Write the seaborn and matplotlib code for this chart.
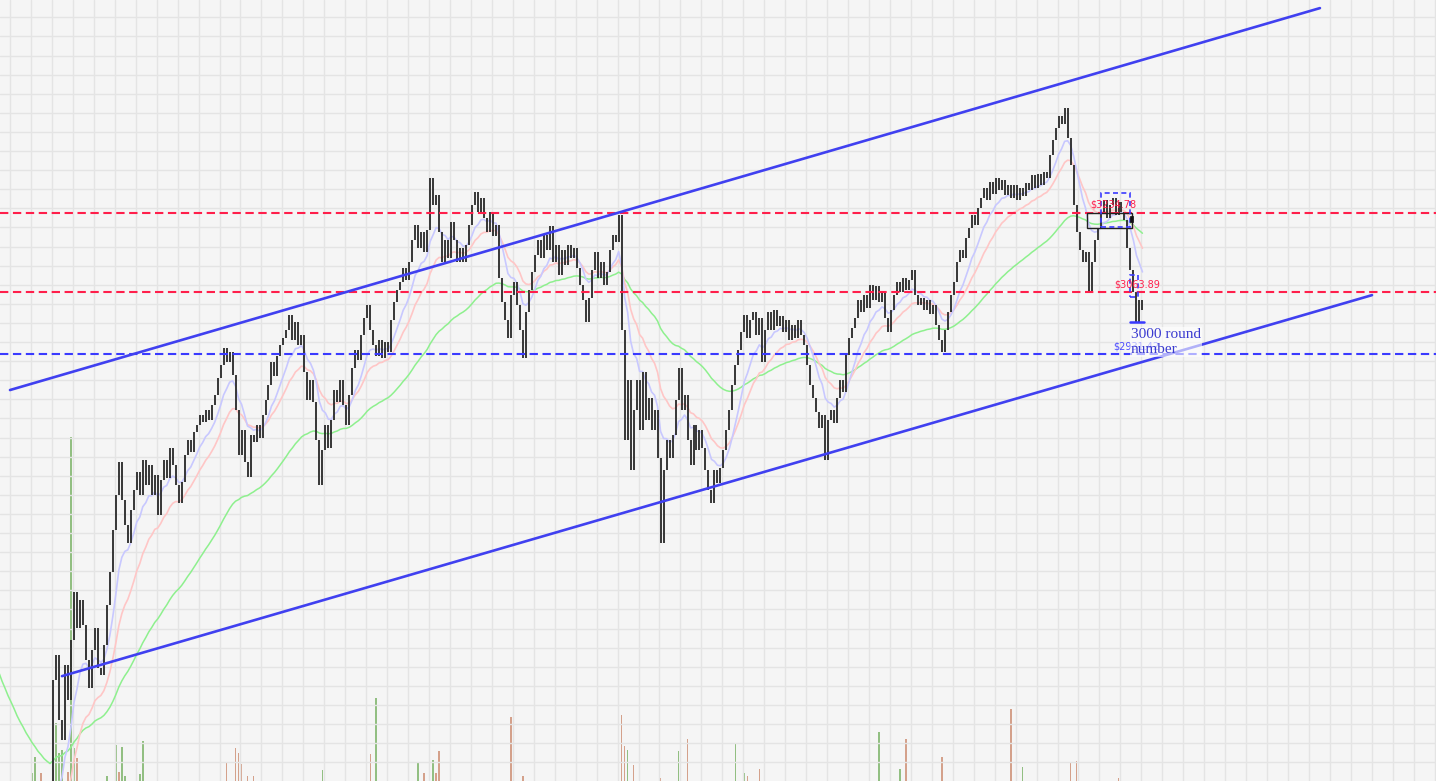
import numpy as np
import pandas as pd
import matplotlib
matplotlib.use("Agg")
import matplotlib.pyplot as plt
from matplotlib.patches import Rectangle
import seaborn as sns

# closes before the visible window (sit below the visible price range)
pre_close = [
    2950, 2980, 2960, 2990, 3010, 2970, 2940, 2960, 2920, 2890,
    2850, 2780, 2700, 2620, 2500, 2420, 2300, 2200, 2100, 2050,
    1980, 1950, 1900, 1870, 1820, 1850, 1800, 1760, 1790, 1740,
    1720, 1760, 1700, 1680, 1730, 1690, 1710, 1660, 1700, 1740,
    1720, 1680, 1750, 1700, 1760, 1720, 1780, 1740, 1700, 1760,
    1790, 1740, 1800, 1770, 1820, 1780, 1850, 1810, 1880, 1900,
]

# daily closes inside the window
close = [
    2227, 2281, 2140, 2097, 2259, 2184, 2313, 2417, 2339, 2400,
    2346, 2270, 2209, 2292, 2339, 2253, 2238, 2302, 2389, 2460,
    2551, 2626, 2698, 2616, 2562, 2523, 2594, 2637, 2676, 2626,
    2702, 2648, 2691, 2626, 2670, 2583, 2659, 2702, 2663, 2728,
    2691, 2648, 2609, 2654, 2713, 2745, 2719, 2762, 2778, 2799,
    2784, 2810, 2788, 2821, 2842, 2879, 2907, 2944, 2914, 2935,
    2886, 2810, 2713, 2767, 2698, 2665, 2756, 2741, 2778, 2749,
    2799, 2832, 2864, 2914, 2883, 2927, 2950, 2965, 2983, 3015,
    2961, 3000, 2950, 2972, 2892, 2832, 2875, 2827, 2745, 2648,
    2724, 2778, 2728, 2788, 2853, 2827, 2875, 2821, 2778, 2842,
    2901, 2940, 2918, 2972, 3009, 3037, 2983, 2950, 2927, 2961,
    2922, 2957, 2935, 3004, 3043, 3069, 3086, 3117, 3091, 3130,
    3177, 3210, 3160, 3194, 3151, 3199, 3311, 3253, 3274, 3194,
    3130, 3177, 3138, 3216, 3177, 3130, 3160, 3130, 3166, 3210,
    3253, 3281, 3238, 3268, 3225, 3194, 3238, 3186, 3210, 3095,
    3043, 3004, 2965, 3058, 3086, 3037, 2983, 2922, 3022, 3069,
    3108, 3145, 3177, 3138, 3188, 3156, 3207, 3130, 3166, 3102,
    3156, 3123, 3166, 3138, 3160, 3117, 3080, 3048, 3000, 3052,
    3112, 3151, 3095, 3130, 3080, 3108, 3156, 3188, 3173, 3231,
    2983, 2745, 2875, 2680, 2810, 2875, 2767, 2892, 2788, 2836,
    2767, 2810, 2706, 2523, 2680, 2745, 2706, 2756, 2832, 2901,
    2810, 2842, 2745, 2691, 2778, 2724, 2767, 2728, 2680, 2637,
    2609, 2680, 2652, 2685, 2724, 2767, 2810, 2864, 2907, 2940,
    2978, 3015, 2965, 3004, 3022, 2972, 3009, 2914, 2983, 3022,
    2983, 3026, 2991, 3013, 2978, 3004, 2961, 2994, 2965, 3004,
    2972, 2950, 2907, 2864, 2836, 2806, 2771, 2799, 2702, 2788,
    2810, 2782, 2836, 2875, 2849, 2929, 2965, 2987, 3009, 3048,
    3022, 3058, 3030, 3080, 3048, 3078, 3043, 3065, 3009, 2978,
    3026, 3058, 3086, 3065, 3095, 3069, 3091, 3112, 3058, 3037,
    3052, 3026, 3048, 3017, 3037, 2994, 2961, 2935, 2983, 3022,
    3058, 3086, 3130, 3156, 3138, 3181, 3203, 3231, 3210, 3246,
    3268, 3289, 3264, 3302, 3276, 3311, 3285, 3307, 3274, 3296,
    3268, 3296, 3264, 3289, 3272, 3300, 3285, 3318, 3289, 3320,
    3296, 3324, 3311, 3361, 3393, 3419, 3445, 3428, 3462, 3397,
    3339, 3253, 3194, 3156, 3130, 3151, 3065, 3130, 3177, 3203,
    3238, 3264, 3225, 3253, 3268, 3231, 3259, 3238, 3220, 3160,
    3112, 3065, 3000, 3048, 3026,
]

# volume spikes (bar index, volume, up day)
vol_idx = [-7, -6, -4, 0, 1, 2, 3, 5, 6, 7, 8, 18, 21, 22, 23, 24, 29, 30,
           58, 61, 62, 63, 65, 67, 90, 106, 108, 122, 124, 127, 128, 129,
           153, 157, 189, 190, 191, 192, 194, 196, 203, 209, 212, 228, 231,
           232, 236, 276, 283, 285, 297, 320, 324, 340, 342, 356]
vol_val = [10, 31, 10, 14, 74, 36, 40, 12, 440, 42, 29, 6, 46, 12, 44, 6, 9, 51,
           24, 42, 36, 22, 6, 6, 14, 35, 106, 24, 10, 27, 10, 38,
           82, 6, 61, 84, 45, 40, 20, 22, 4, 38, 54, 47, 10,
           6, 15, 63, 15, 54, 31, 92, 18, 24, 26, 4]
vol_up = [1, 1, 0, 0, 1, 1, 1, 0, 1, 1, 0, 1, 1, 0, 1, 1, 1, 1,
          0, 0, 0, 0, 0, 0, 1, 0, 1, 1, 0, 1, 0, 0,
          0, 0, 0, 0, 0, 1, 0, 1, 0, 1, 0, 1, 1,
          0, 0, 1, 1, 0, 0, 0, 1, 0, 0, 0]

levels_red = [3234.78, 3063.89]
level_blue = 2931.42
upper_x, upper_y = [-14.37, 423.3], [2853, 3678]
lower_x, lower_y = [3.0, 440.7], [2235, 3058]

sns.set_theme(style="white")

idx = np.arange(-len(pre_close), len(close))
df = pd.DataFrame({"i": idx, "close": np.array(pre_close + close, dtype=float)})
df["open"] = df["close"].shift(1).fillna(df["close"])
df["ma_fast"] = df["close"].ewm(span=10, adjust=False).mean()
df["ma_mid"] = df["close"].ewm(span=20, adjust=False).mean()
df["ma_slow"] = df["close"].ewm(span=60, adjust=False).mean()

fig = plt.figure(figsize=(14.36, 7.81), dpi=100)
axv = fig.add_axes([0, 0, 1, 1])
axv.set_facecolor("#f5f5f5")
ax = fig.add_axes([0, 0, 1, 1], sharex=axv)
ax.patch.set_alpha(0)

# volume
vcol = ["#92bf82" if u else "#d4a18b" for u in vol_up]
axv.bar(vol_idx, vol_val, width=0.5, color=vcol, linewidth=0)
axv.set_ylim(0, 1000)
axv.set_yticks([])

# moving averages
sns.lineplot(data=df, x="i", y="ma_slow", color="#8ef08e", lw=1.1, ax=ax, zorder=2)
sns.lineplot(data=df, x="i", y="ma_mid", color="#ffc6c6", lw=1.2, ax=ax, zorder=2)
sns.lineplot(data=df, x="i", y="ma_fast", color="#c8c8ff", lw=1.2, ax=ax, zorder=2)

# candles
lo = np.minimum(df["open"], df["close"])
hi = np.maximum(df["open"], df["close"])
ax.vlines(df["i"], lo, hi, color="#2f2f2f", lw=1.35, zorder=3)

# levels
for lvl in levels_red:
    ax.axhline(lvl, color="#ff1f4b", ls=(0, (4, 2.2)), lw=1.5, zorder=4)
ax.axhline(level_blue, color="#3a3aff", ls=(0, (4, 2.2)), lw=1.5, zorder=4)

# channel
ax.plot(upper_x, upper_y, color="#4040f0", lw=1.9, zorder=5)
ax.plot(lower_x, lower_y, color="#4040f0", lw=1.9, zorder=5)

# markers around the recent range
ax.add_patch(Rectangle((345.5, 3203), 15, 32, fill=False, ec="#222222", lw=1.0, zorder=6))
ax.add_patch(Rectangle((350.2, 3205), 9.7, 73.6, fill=False, ec="#3a3aff", lw=1.2,
                       ls=(0, (3, 2)), zorder=6))
ax.add_patch(Rectangle((360.0, 3054), 2.6, 47.5, fill=False, ec="#3a3aff", lw=1.2,
                       ls=(0, (3, 2)), zorder=6))
ax.add_patch(Rectangle((359.9, 3217), 1.0, 13, fc="#111111", ec="#111111", lw=0.5, zorder=6))
ax.plot([359.9, 364.6], [3000, 3000], color="#3a3aff", lw=1.8, zorder=6)

ax.text(354.2, 3252.7, "$3234.78", color="#ff1f4b", fontsize=7, ha="center",
        va="center", zorder=7)
ax.text(362.2, 3080, "$3063.89", color="#ff1f4b", fontsize=7, ha="center",
        va="center", zorder=7)
ax.text(361.8, 2948, "$2931.42", color="#4d4dff", fontsize=7, ha="center",
        va="center", zorder=7)
ax.text(360.2, 2987, "3000 round\nnumber", color="#3a3ad0", fontsize=11,
        family="Liberation Serif", ha="left", va="top", zorder=8,
        bbox=dict(fc="white", ec="none", alpha=0.6, pad=1))

# grid (ticks first, then the view limits so the ticks do not widen them)
ax.set_xticks(np.arange(-14.37, 462, 7.0))
ax.set_yticks(np.arange(2007.66, 3695, 41.26))
ax.set_xlim(-17.71, 462.08)
ax.set_ylim(2008.5, 3695.5)
ax.grid(True, color="#e4e4e4", lw=1.0, zorder=0)
ax.set_axisbelow(True)
for a in (ax, axv):
    a.tick_params(length=0, labelleft=False, labelbottom=False,
                  labelright=False)
    a.set_xlabel("")
    a.set_ylabel("")
    for s in a.spines.values():
        s.set_visible(False)

fig.savefig("out.png", dpi=100)
